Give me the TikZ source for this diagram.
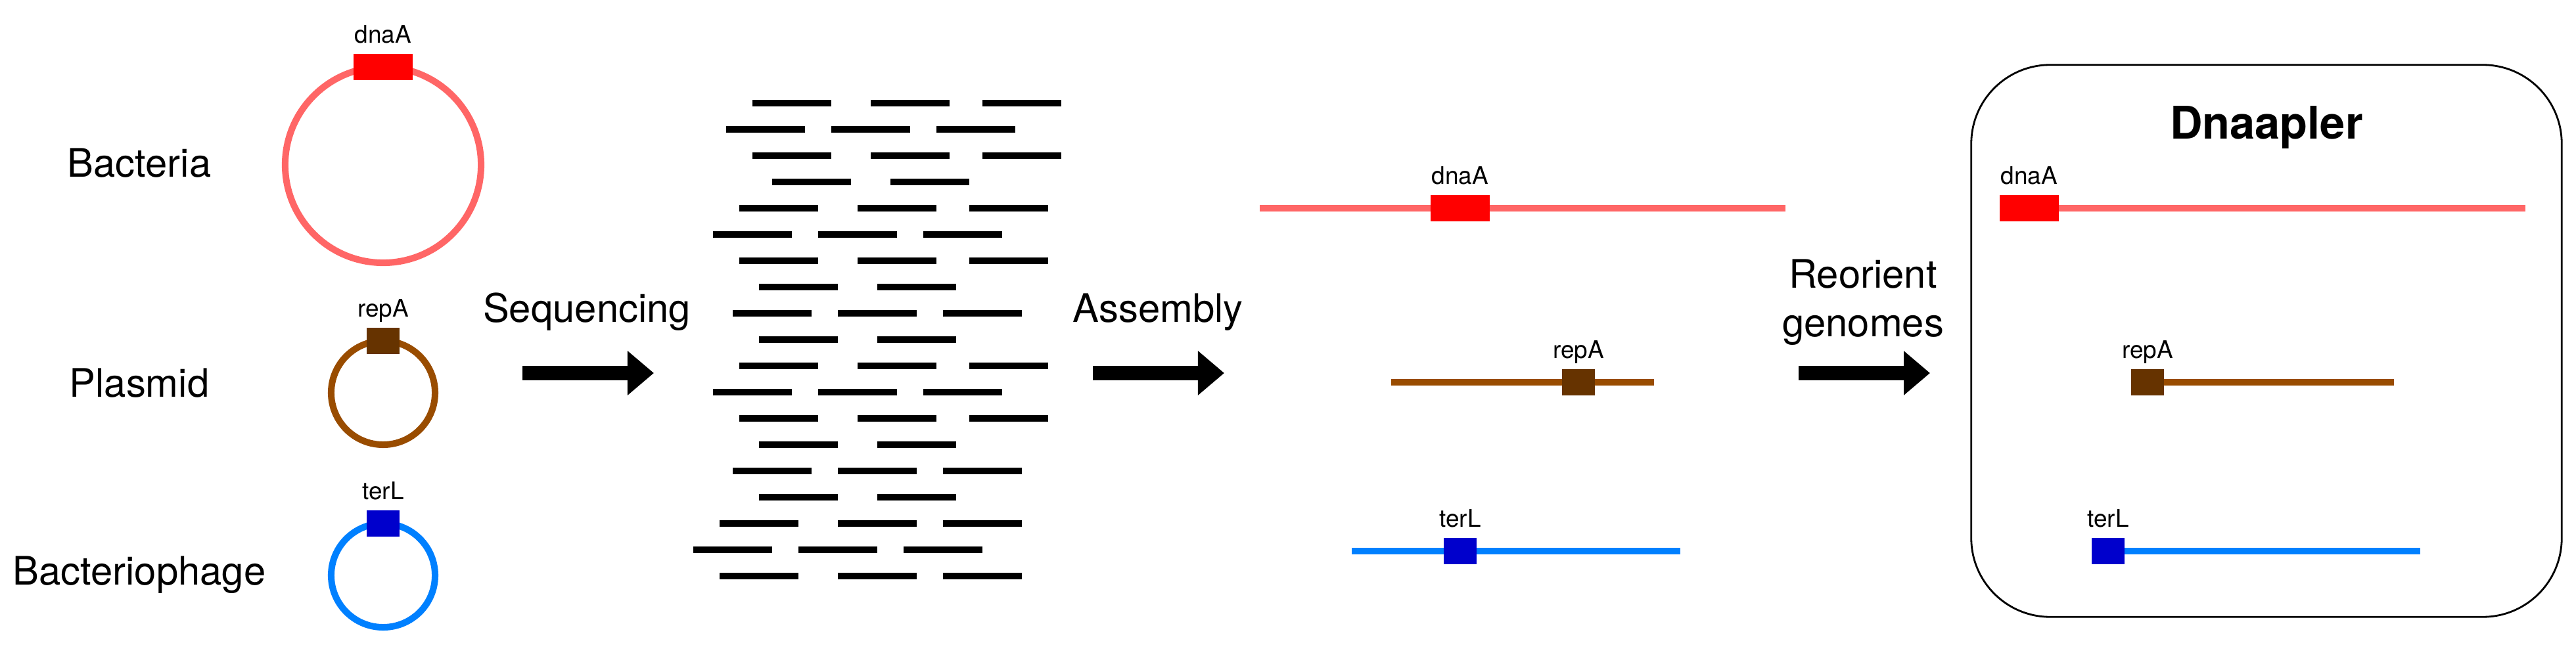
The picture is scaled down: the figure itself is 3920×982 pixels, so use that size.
\documentclass[tikz,border=0pt]{standalone}
\usepackage{fontspec}
\setmainfont{TeX Gyre Heros}
\usepackage{xcolor}
\usepackage{tikz}
\usetikzlibrary{arrows.meta,positioning}

\definecolor{bactline}{RGB}{255,102,102}
\definecolor{bactgene}{RGB}{255,0,0}
\definecolor{plasline}{RGB}{153,76,0}
\definecolor{plasgene}{RGB}{102,51,0}
\definecolor{phagline}{RGB}{0,128,255}
\definecolor{phaggene}{RGB}{0,0,204}

\begin{document}
\begin{tikzpicture}[
  x=0.01cm, y=-0.01cm,
  lab/.style={anchor=base, font=\fontsize{17}{20.8}\selectfont},
  gene/.style={font=\fontsize{10.5}{12}\selectfont},
  gbox/.style={rectangle, inner sep=0pt, minimum width=0.5cm, minimum height=0.4cm},
  ring/.style={circle, draw, line width=0.1cm, inner sep=0pt, outer sep=0pt},
  genome/.style={line width=0.095cm},
  read/.style={line width=0.095cm},
  bigarrow/.style={line width=0.22cm, -{Triangle[length=0.4cm, width=0.65cm]}}
]
\useasboundingbox (0,0) rectangle (3920,982);

% circular genomes
\node[ring, draw=bactline, minimum size=2.98cm] (bact) at (583,251) {};
\node[gbox, fill=bactgene, minimum width=0.9cm] (bactg) at (bact.north) {};
\node[gene, above=0.16cm of bactg, anchor=base] (bactl) {dnaA};
\node[lab] (bactt) at (212,270) {Bacteria};

\node[ring, draw=plasline, minimum size=1.58cm] (plas) at (583,598) {};
\node[gbox, fill=plasgene] (plasg) at (plas.north) {};
\node[gene, above=0.16cm of plasg, anchor=base] (plasl) {repA};
\node[lab] (plast) at (212,604) {Plasmid};

\node[ring, draw=phagline, minimum size=1.58cm] (phag) at (583,876) {};
\node[gbox, fill=phaggene] (phagg) at (phag.north) {};
\node[gene, above=0.16cm of phagg, anchor=base] (phagl) {terL};
\node[lab] (phagt) at (212,890) {Bacteriophage};

% sequencing
\coordinate (seqs) at (795,568);
\coordinate (seqe) at (995,568);
\draw[bigarrow] (seqs) -- (seqe);
\node[lab] (seqt) at (893,490) {Sequencing};

% reads
\foreach \y/\xs in {157/{1145,1325,1495}, 197/{1105,1265,1425}, 237/{1145,1325,1495},
    277/{1175,1355}, 317/{1125,1305,1475}, 357/{1085,1245,1405}, 397/{1125,1305,1475},
    437/{1155,1335}, 477/{1115,1275,1435}, 517/{1155,1335}, 557/{1125,1305,1475},
    597/{1085,1245,1405}, 637/{1125,1305,1475}, 677/{1155,1335}, 717/{1115,1275,1435},
    757/{1155,1335}, 797/{1095,1275,1435}, 837/{1055,1215,1375}, 877/{1095,1275,1435}}
  \foreach \x in \xs
    \draw[read] (\x,\y) -- ++(120,0);

% assembly
\coordinate (asms) at (1663,568);
\coordinate (asme) at (1863,568);
\draw[bigarrow] (asms) -- (asme);
\node[lab] (asmt) at (1762,490) {Assembly};

\coordinate (asmas) at (1917,317);
\coordinate (asmae) at (2717,317);
\draw[genome, bactline] (asmas) -- (asmae);
\node[gbox, fill=bactgene, minimum width=0.9cm] (asmag) at (2222,317) {};
\node[gene, above=0.16cm of asmag, anchor=base] (asmal) {dnaA};

\coordinate (asmbs) at (2117,582);
\coordinate (asmbe) at (2517,582);
\draw[genome, plasline] (asmbs) -- (asmbe);
\node[gbox, fill=plasgene] (asmbg) at (2402,582) {};
\node[gene, above=0.16cm of asmbg, anchor=base] (asmbl) {repA};

\coordinate (asmcs) at (2057,839);
\coordinate (asmce) at (2557,839);
\draw[genome, phagline] (asmcs) -- (asmce);
\node[gbox, fill=phaggene] (asmcg) at (2222,839) {};
\node[gene, above=0.16cm of asmcg, anchor=base] (asmcl) {terL};

% reorient
\coordinate (reos) at (2737,568);
\coordinate (reoe) at (2937,568);
\draw[bigarrow] (reos) -- (reoe);
\node[lab, align=center] (reot) at (2835,512) {Reorient\\genomes};

% dnaapler output
\node[draw, rounded corners=1.2cm, line width=0.8pt, minimum width=8.98cm, minimum height=8.4cm] (dnabox) at (3449,519) {};
\node[anchor=base, font=\bfseries\fontsize{19.5}{23}\selectfont] (dnatitle) at (3449,212) {Dnaapler};

\coordinate (outas) at (3088,317);
\coordinate (outae) at (3843,317);
\draw[genome, bactline] (outas) -- (outae);
\node[gbox, fill=bactgene, minimum width=0.9cm] (outag) at (outas) {};
\node[gene, above=0.16cm of outag, anchor=base] (outal) {dnaA};

\coordinate (outbs) at (3268,582);
\coordinate (outbe) at (3643,582);
\draw[genome, plasline] (outbs) -- (outbe);
\node[gbox, fill=plasgene] (outbg) at (outbs) {};
\node[gene, above=0.16cm of outbg, anchor=base] (outbl) {repA};

\coordinate (outcs) at (3208,839);
\coordinate (outce) at (3683,839);
\draw[genome, phagline] (outcs) -- (outce);
\node[gbox, fill=phaggene] (outcg) at (outcs) {};
\node[gene, above=0.16cm of outcg, anchor=base] (outcl) {terL};
\end{tikzpicture}
\end{document}
